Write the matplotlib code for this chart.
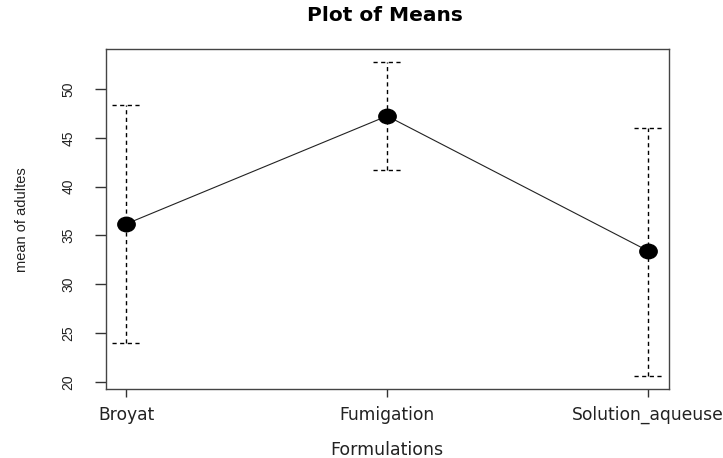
import matplotlib.pyplot as plt
from matplotlib.path import Path
from matplotlib.transforms import Affine2D

plt.rcParams["font.family"] = ["Liberation Sans", "DejaVu Sans"]

formulations = ["Broyat", "Fumigation", "Solution_aqueuse"]
means = [36.18, 47.24, 33.42]
ci_low = [24.0, 41.7, 20.6]
ci_high = [48.36, 52.76, 46.0]
yticks = [20, 25, 30, 35, 40, 45, 50]

x = [1, 2, 3]

fig = plt.figure(figsize=(7.23, 4.58), dpi=100)
ax = fig.add_axes([0.1466, 0.1507, 0.7787, 0.7423])

# intervals: dashed vertical bars with dashed caps
cap = 0.053
dash = (0, (3, 2.5))
for xi, lo, hi in zip(x, ci_low, ci_high):
    ax.plot([xi, xi], [lo, hi], color="black", lw=1, ls=dash)
    ax.plot([xi - cap, xi + cap], [hi, hi], color="black", lw=1, ls=dash)
    ax.plot([xi - cap, xi + cap], [lo, lo], color="black", lw=1, ls=dash)

# slightly wide dot, like the device output
dot = Path.unit_circle().transformed(Affine2D().scale(1.2, 1.0))
ax.plot(x, means, color="#222222", lw=0.8)
ax.plot(x, means, marker=dot, color="black", markersize=12.5, ls="none")

ax.set_xlim(0.923, 3.08)
ax.set_ylim(19.28, 54.1)
ax.set_xticks(x)
ax.set_xticklabels(formulations, fontsize=12.3, family="DejaVu Sans", color="#222222")
ax.set_yticks(yticks)
ax.set_yticklabels([str(v) for v in yticks], rotation=90, va="center",
                   fontsize=10, color="#222222")
ax.tick_params(axis="x", direction="out", length=6, width=1, color="#333333", pad=6)
ax.tick_params(axis="y", direction="out", length=8, width=1, color="#333333", pad=14)
for s in ax.spines.values():
    s.set_color("#444444")
    s.set_linewidth(1)

fig.text(0.533, 0.966, "Plot of Means", ha="center", va="center",
         fontsize=14.5, fontweight="bold", family="DejaVu Sans")
fig.text(0.535, 0.007, "Formulations", ha="center", va="baseline",
         fontsize=12.5, family="DejaVu Sans", color="#222222")
fig.text(0.03, 0.52, "mean of adultes", ha="center", va="center",
         rotation=90, fontsize=10.5, color="#222222")

fig.savefig("out.png", dpi=100)
